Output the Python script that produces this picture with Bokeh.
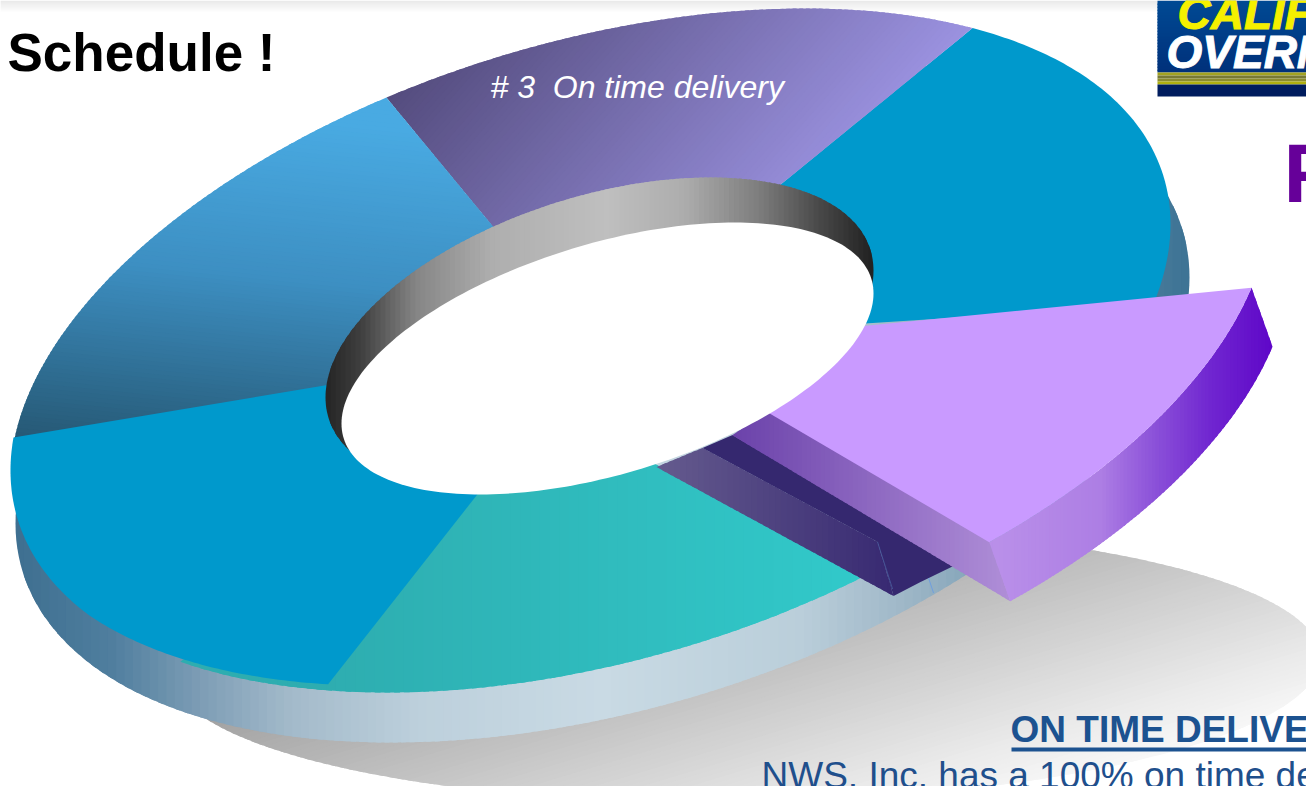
import numpy as np
from bokeh.plotting import figure
from bokeh.models import Range1d
from bokeh.core.properties import value
from bokeh.embed import file_html
from bokeh.resources import INLINE

# ---- chart content -------------------------------------------------------
title_text = ["Schedule !"]
slice_label = ["# 3\u00a0\u00a0On time delivery"]
heading_text = ["ON TIME DELIVE"]
body_text = ["NWS, Inc. has a 100% on time de"]
logo_top = ["CALIF"]
logo_bottom = ["OVERN"]
side_letter = ["F"]
# slice boundaries round the ring, degrees
slice_edges = [-174.2, -110.6, -48.8, 14.0, 62.25, 117.4, 185.8]
exploded_edges = [14.7, 59.0]

# ---- colours -------------------------------------------------------------
BLUE = "#0099CC"
LILAC = "#C99AFF"
PURPLE_STOPS = [(355, "#544C7E"), (747, "#9B92E0")]
LEFT_STOPS = [(90, "#49AAE2"), (250, "#3D8FC2"), (437, "#265874")]
TEAL_STOPS = [(330, "#2EADB0"), (860, "#31C9CA")]
WALL_STOPS = [(15, "#3E6F90"), (110, "#4F7E9E"), (200, "#7D9DB5"), (290, "#A3BACA"),
              (420, "#BDD0DC"), (600, "#C9DAE4"), (800, "#BACEDA"), (900, "#A0B8C8"),
              (970, "#86A6BA"), (1060, "#5F8BA7"), (1189, "#3D7394")]
RIM_STOPS = [(325, "#242424"), (360, "#3F3F3F"), (415, "#858585"), (491, "#AEAEAE"),
             (606, "#BFBFBF"), (683, "#ADADAD"), (760, "#7C7C7C"), (817, "#4A4A4A"), (873, "#212121")]
SIDE_STOPS = [(1000, "#B98FE9"), (1100, "#AD7EE4"), (1153, "#8C52D9"), (1210, "#7026D0"), (1271, "#5F07C8")]
CUT1_STOPS = [(656, "#655B8E"), (890, "#382A72")]
CUT3_STOPS = [(732, "#6B42AA"), (1012, "#B08FD8")]
SHADOW_STOPS = [(600, "#787878"), (1000, "#EAEAEA"), (1085, "#FFFFFF")]
LOGO_STOPS = [(0, "#004A94"), (72, "#00307A")]
TOPBAR_STOPS = [(0, "#E8E8E8"), (12, "#FFFFFF")]

# ---- ellipses: centre x, centre y, half width, half height, tilt ----------
TOP = (590, 350, 580, 342, -0.351)
TOP_UPPER = (590, 350, 580, 342, -0.37)
UPPER_APEX = (587.5, 341)
LOWER = (602, 400, 587, 342, -0.36)
RIM = (599, 333.5, 274, 156.5, -0.405)
HOLE = (607, 358, 266, 136, -0.478)
SHADOW = (745, 664, 575, 138, -0.052)
EXPLODE = (100, -25)
DEPTH = (21, 59)
BASELINE = 0.39  # the svg text sits this many font sizes under its anchor
SANS = "Liberation Sans"


def ell(e, deg, scale=1.0):
    cx, cy, w, h, s = e
    t = np.radians(np.asarray(deg, dtype=float))
    phi = np.arcsin(s)
    return np.column_stack([cx + scale * w * np.cos(t), cy + scale * h * np.sin(t + phi)])


def full(e, n=240):
    return ell(e, np.linspace(0, 360, n, endpoint=False))


def clip(poly, d, lo):
    """Keep the part of poly where dot(p, d) >= lo."""
    out = []
    s = poly @ d - lo
    for i in range(len(poly)):
        a, b = poly[i], poly[(i + 1) % len(poly)]
        sa, sb = s[i], s[(i + 1) % len(poly)]
        if sa >= 0:
            out.append(a)
        if (sa >= 0) != (sb >= 0):
            out.append(a + (b - a) * sa / (sa - sb))
    return np.array(out) if out else np.zeros((0, 2))


def mix(stops, s):
    ps = [q[0] for q in stops]
    rgb = np.array([[int(q[1][i:i + 2], 16) for i in (1, 3, 5)] for q in stops], dtype=float)
    c = [np.interp(s, ps, rgb[:, k]) for k in range(3)]
    return "#%02X%02X%02X" % tuple(int(round(v)) for v in c)


p = figure(width=1306, height=786, x_range=Range1d(0, 1306), y_range=Range1d(786, 0),
           x_axis_location=None, y_axis_location=None, output_backend="svg",
           toolbar_location=None, min_border=0, outline_line_color=None,
           background_fill_color="white", border_fill_color="white")
p.grid.visible = False
p.styles = {"position": "absolute", "left": "0px", "top": "0px"}


def graded(poly, d, stops, n=80):
    d = np.asarray(d, dtype=float)
    s = poly @ d
    lo, hi = s.min(), s.max()
    step = (hi - lo) / n
    xs, ys, cols = [], [], []
    for i in range(n):
        a = lo + i * step
        # every band runs past its neighbour, the next one paints over it
        b = clip(clip(poly, d, a), -d, -(a + step * 1.6))
        if len(b) > 2:
            xs.append(b[:, 0].tolist())
            ys.append(b[:, 1].tolist())
            cols.append(mix(stops, a + step / 2))
    p.patches(xs, ys, fill_color=cols, line_color=None)


def solid(poly, color):
    p.patch(poly[:, 0].tolist(), poly[:, 1].tolist(), fill_color=color, line_color=None)


def wedge(e, t0, t1, apex=None, n=90):
    arc = ell(e, np.linspace(t0, t1, n))
    apex = np.array(e[:2] if apex is None else apex, dtype=float)
    return np.vstack([apex, arc])


def label(x, y, text, color, size, style="normal", font=SANS, **kw):
    p.text([x], [y - BASELINE * size], text=text, text_color=color, text_font=value(font),
           text_font_style=style, text_font_size=value(f"{size}px"), text_baseline="alphabetic", **kw)


# top strip
graded(np.array([[0, 0], [1306, 0], [1306, 13], [0, 13.0]]), (0, 1), TOPBAR_STOPS, 13)

# shadow
graded(full(SHADOW), (0.2869, 0.958), SHADOW_STOPS, 90)
# lower wall
graded(full(LOWER), (1, 0), WALL_STOPS, 140)

e = slice_edges
centre = np.array(TOP[:2], dtype=float)
# top right slice
solid(wedge(TOP_UPPER, e[2], e[3], UPPER_APEX), BLUE)
# violet slice
graded(wedge(TOP_UPPER, e[1], e[2], UPPER_APEX), (0.75, 0.66), PURPLE_STOPS, 80)
# left slice
graded(wedge(TOP_UPPER, e[0] + 0.7, e[1], UPPER_APEX), (-0.1, 1), LEFT_STOPS, 90)

# teal slice, runs a little under the blue one
q = ell(TOP, [e[4]])[0]
teal = np.vstack([centre, ell(TOP, np.linspace(135, e[4], 90)), q + (-270, -150)])
graded(teal, (1, 0), TEAL_STOPS, 70)
# blue slice, its rim draws in slightly at the teal end
ts = np.linspace(e[5], e[6], 110)
scales = np.interp(ts, [e[5], 150], [0.983, 1.0])
blue = np.array([ell(TOP, [t], sc)[0] for t, sc in zip(ts, scales)])
solid(np.vstack([centre, blue, UPPER_APEX]), BLUE)

# rim of the hole
graded(full(RIM), (1, 0), RIM_STOPS, 110)

# faces of the cut left by the pulled-out slice
b = q + (33, 18)
a = q + (17, -36)
c1 = q + (-158, -130)
c2 = q + (-204, -111)
c3 = q + (-128, -143)
graded(np.array([c2, c1, a, b]), (1, 0), CUT1_STOPS, 40)
solid(np.array([c1, c3, q + (95, -13), q + (60, 4), b, a]), "#35286F")
p.segment([a[0]], [a[1]], [b[0] - 1], [b[1] - 7], line_color="#4A5EA0", line_width=0.8)
p.segment(q[0] + 68, q[1], q[0] + 73, q[1] + 15, line_color="#6F9FE0", line_width=1)

# pulled-out slice
shifted = (TOP[0] + EXPLODE[0], TOP[1] + EXPLODE[1], TOP[2], TOP[3], TOP[4])
arc = ell(shifted, np.linspace(exploded_edges[0], exploded_edges[1], 90))
arc[:, 1] += np.linspace(-3, 4, len(arc))
apex = centre + EXPLODE + (-35, 21)
corner = arc[-1]
tip = corner + DEPTH
# its cut face
graded(np.array([corner + (-257, -107), corner + (-219, -132), corner + (0, -2), tip]), (1, 0), CUT3_STOPS, 60)
# its outer wall
graded(np.vstack([arc, (arc + DEPTH)[::-1]]), (1, 0), SIDE_STOPS, 80)
solid(np.vstack([apex, arc]), LILAC)

# hole
solid(full(HOLE), "#FFFFFF")

# logo
LOGO_X = 1157
graded(np.array([[LOGO_X, 0], [1306, 0], [1306, 72], [LOGO_X, 72.0]]), (0, 1), LOGO_STOPS, 24)
p.quad(left=[LOGO_X] * 5, right=[1306] * 5, top=[72, 75, 78, 81, 84], bottom=[75, 78, 81, 84, 96],
       fill_color=["#A3A320", "#787A35", "#8C8C30", "#B0B010", "#001C5E"], line_color=None)
label(1177, 30, logo_top, "#F5F000", 46, "bold italic", text_outline_color="#F5F000")
label(1166, 69, logo_bottom, "#FFFFFF", 46, "bold italic", text_outline_color="#FFFFFF")

# texts
label(7, 73, title_text, "#000000", 53, "bold")
label(490, 99, slice_label, "#FFFFFF", 32, "italic")
label(1283, 205, side_letter, "#660099", 84, "bold")
label(1010, 743, heading_text, "#1C5290", 37, "bold")
p.quad(left=[1011], right=[1306], top=[747], bottom=[751], fill_color="#1C5290", line_color=None)
label(761, 789, body_text, "#1F4F8C", 37)

open("out.html", "w").write(file_html(p, INLINE))
